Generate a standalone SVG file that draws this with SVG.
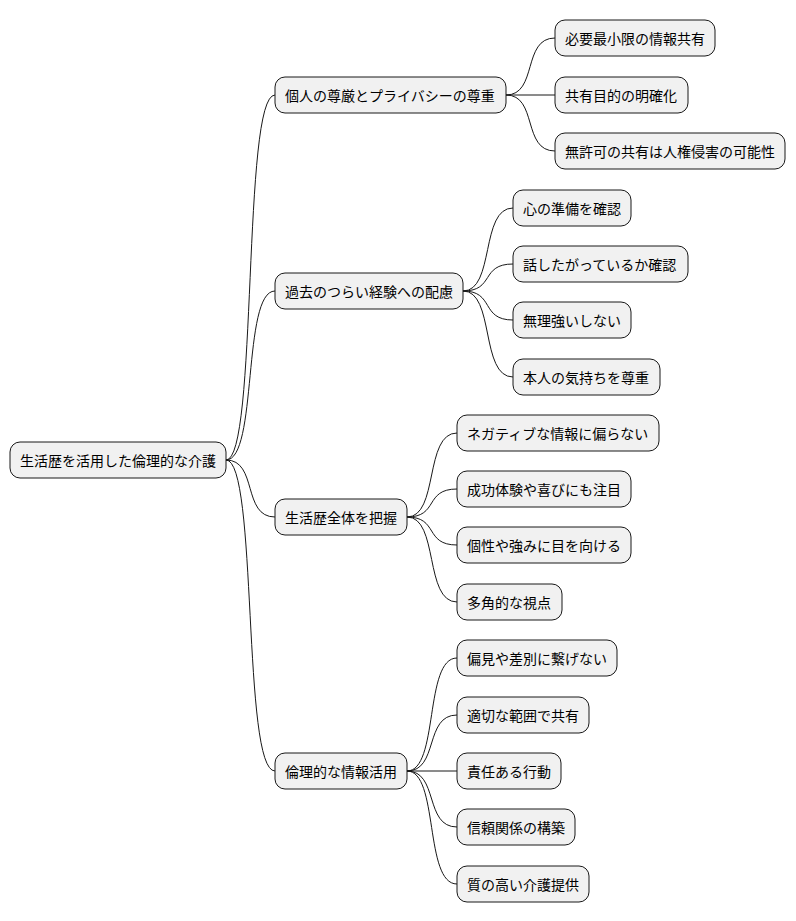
<svg xmlns="http://www.w3.org/2000/svg" width="796" height="921" viewBox="0 0 796 921">
<style>
.n{fill:#f1f1f1;stroke:#181818;stroke-width:1}
text{font-family:"Noto Sans CJK JP","Liberation Sans",sans-serif;font-size:14px;fill:#000;dominant-baseline:central}
#connectors path{fill:none;stroke:#181818;stroke-width:1}
</style>
<rect width="796" height="921" style="fill:#ffffff;stroke:none"/>
<g id="connectors">
<path d="M226,460 C258,460 242,95 275,95"/>
<path d="M226,460 C258,460 242,291 275,291"/>
<path d="M226,460 C258,460 242,517 275,517"/>
<path d="M226,460 C258,460 242,771 275,771"/>
<path d="M506,95 C538,95 522,38 555,38"/>
<path d="M506,95 L555,95"/>
<path d="M506,95 C538,95 522,151 555,151"/>
<path d="M463,291 C495,291 480,208 513,208"/>
<path d="M463,291 C495,291 480,264 513,264"/>
<path d="M463,291 C495,291 480,320 513,320"/>
<path d="M463,291 C495,291 480,377 513,377"/>
<path d="M407,517 C439,517 424,433 457,433"/>
<path d="M407,517 C439,517 424,489 457,489"/>
<path d="M407,517 C439,517 424,545 457,545"/>
<path d="M407,517 C439,517 424,602 457,602"/>
<path d="M407,771 C439,771 424,658 457,658"/>
<path d="M407,771 C439,771 424,715 457,715"/>
<path d="M407,771 L457,771"/>
<path d="M407,771 C439,771 424,827 457,827"/>
<path d="M407,771 C439,771 424,884 457,884"/>
</g>
<g id="root"><rect class="n" x="10" y="442" width="216" height="36" rx="10"/><text x="20" y="460">生活歴を活用した倫理的な介護</text></g>
<g id="n1"><rect class="n" x="275" y="77" width="231" height="36" rx="10"/><text x="285" y="95">個人の尊厳とプライバシーの尊重</text></g>
<g id="n2"><rect class="n" x="275" y="273" width="188" height="36" rx="10"/><text x="285" y="291">過去のつらい経験への配慮</text></g>
<g id="n3"><rect class="n" x="275" y="499" width="132" height="36" rx="10"/><text x="285" y="517">生活歴全体を把握</text></g>
<g id="n4"><rect class="n" x="275" y="753" width="132" height="36" rx="10"/><text x="285" y="771">倫理的な情報活用</text></g>
<g id="n1a"><rect class="n" x="555" y="20" width="160" height="36" rx="10"/><text x="565" y="38">必要最小限の情報共有</text></g>
<g id="n1b"><rect class="n" x="555" y="77" width="133" height="36" rx="10"/><text x="565" y="95">共有目的の明確化</text></g>
<g id="n1c"><rect class="n" x="555" y="133" width="230" height="36" rx="10"/><text x="565" y="151">無許可の共有は人権侵害の可能性</text></g>
<g id="n2a"><rect class="n" x="513" y="190" width="118" height="36" rx="10"/><text x="523" y="208">心の準備を確認</text></g>
<g id="n2b"><rect class="n" x="513" y="246" width="175" height="36" rx="10"/><text x="523" y="264">話したがっているか確認</text></g>
<g id="n2c"><rect class="n" x="513" y="302" width="118" height="36" rx="10"/><text x="523" y="320">無理強いしない</text></g>
<g id="n2d"><rect class="n" x="513" y="359" width="147" height="36" rx="10"/><text x="523" y="377">本人の気持ちを尊重</text></g>
<g id="n3a"><rect class="n" x="457" y="415" width="202" height="36" rx="10"/><text x="467" y="433">ネガティブな情報に偏らない</text></g>
<g id="n3b"><rect class="n" x="457" y="471" width="174" height="36" rx="10"/><text x="467" y="489">成功体験や喜びにも注目</text></g>
<g id="n3c"><rect class="n" x="457" y="527" width="174" height="36" rx="10"/><text x="467" y="545">個性や強みに目を向ける</text></g>
<g id="n3d"><rect class="n" x="457" y="584" width="105" height="36" rx="10"/><text x="467" y="602">多角的な視点</text></g>
<g id="n4a"><rect class="n" x="457" y="640" width="160" height="36" rx="10"/><text x="467" y="658">偏見や差別に繋げない</text></g>
<g id="n4b"><rect class="n" x="457" y="697" width="132" height="36" rx="10"/><text x="467" y="715">適切な範囲で共有</text></g>
<g id="n4c"><rect class="n" x="457" y="753" width="104" height="36" rx="10"/><text x="467" y="771">責任ある行動</text></g>
<g id="n4d"><rect class="n" x="457" y="809" width="118" height="36" rx="10"/><text x="467" y="827">信頼関係の構築</text></g>
<g id="n4e"><rect class="n" x="457" y="866" width="132" height="36" rx="10"/><text x="467" y="884">質の高い介護提供</text></g>
</svg>
